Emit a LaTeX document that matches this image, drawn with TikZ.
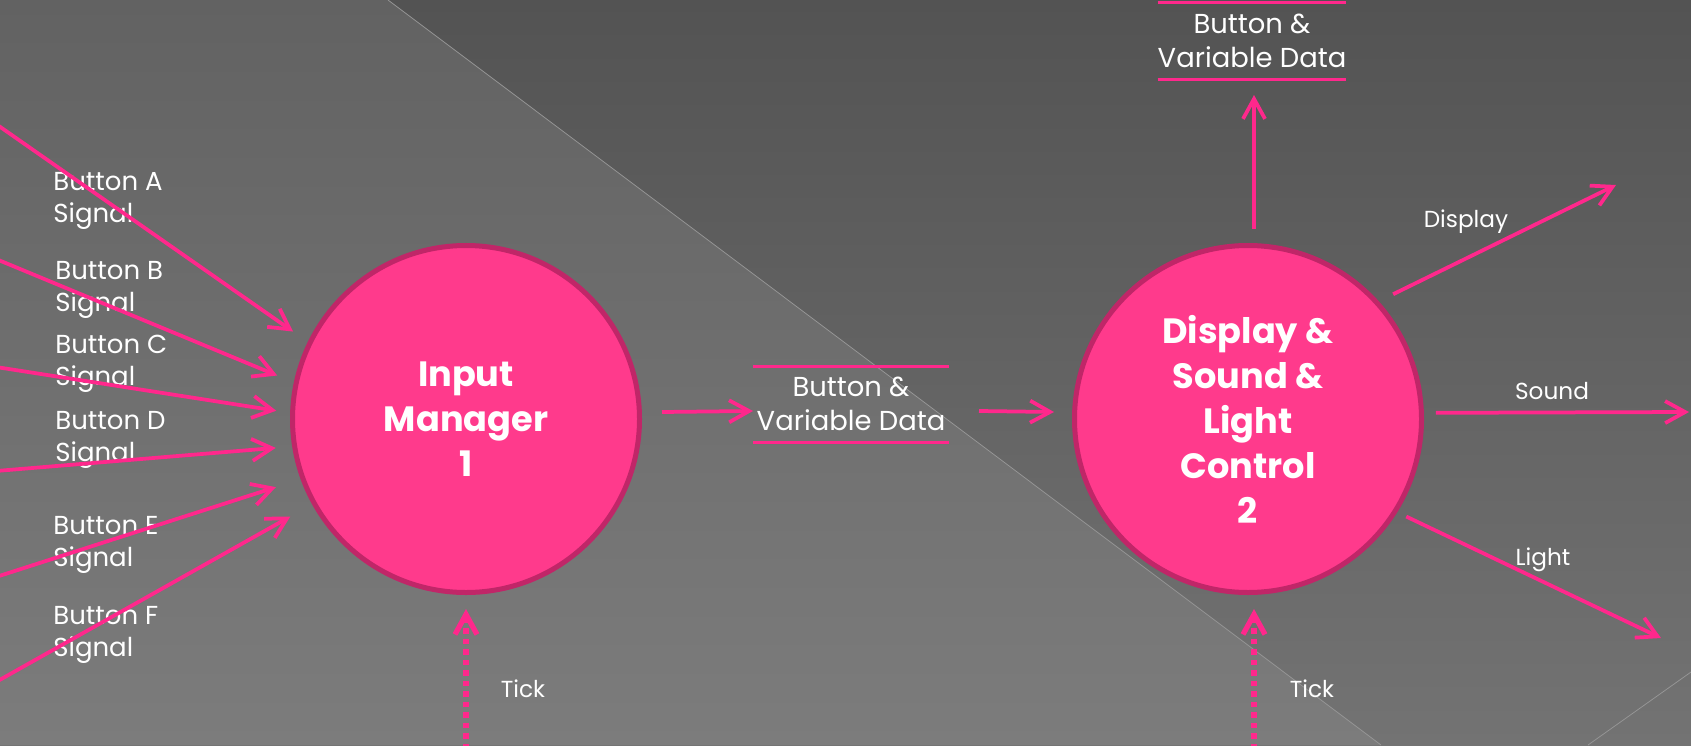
\documentclass[tikz,border=0pt]{standalone}
\usepackage{fontspec}
\setmainfont{Poppins}
\usetikzlibrary{arrows.meta}
\definecolor{procpink}{RGB}{255,58,140}
\definecolor{procrim}{RGB}{192,38,104}
\definecolor{flowpink}{RGB}{255,40,140}
\definecolor{darktop}{RGB}{83,83,83}
\definecolor{darkbot}{RGB}{115,115,115}
\definecolor{lighttop}{RGB}{98,98,98}
\definecolor{lightbot}{RGB}{124,124,124}
\definecolor{edgegray}{RGB}{150,150,150}

\begin{document}
\begin{tikzpicture}[x=0.2mm,y=0.2mm,
    proc/.style={circle,fill=procpink,draw=procrim,line width=1mm,minimum size=69.4mm,inner sep=0pt,text=white,align=center,font=\bfseries\fontsize{20}{25.6}\selectfont},
    flow/.style={draw=flowpink,line width=0.75mm,-{Straight Barb[length=4mm,width=4.4mm]}},
    clock/.style={flow,line width=1.05mm,dash pattern=on 1.1mm off 1mm},
    sig/.style={text=white,align=left,anchor=west,inner sep=0pt,font=\fontsize{14.8}{18.2}\selectfont},
    lab/.style={text=white,inner sep=0pt,font=\fontsize{13.2}{15}\selectfont},
    store/.style={minimum height=15.2mm,inner sep=0pt,outer sep=0pt,text=white,align=center,font=\fontsize{15.6}{19.3}\selectfont}]
    \useasboundingbox(0,0)rectangle(1691,745);
    \shade[top color=darktop,bottom color=darkbot](0,0)rectangle(1691,745);
    \shade[top color=lighttop,bottom color=lightbot](0,745)--(388,745)--(1381,0)--(0,0)--cycle;
    \draw[edgegray,line width=0.15mm](388,745)--(1381,0);
    \draw[edgegray,line width=0.15mm](1691,73)--(1588,0);

    \node[proc](input)at(466,326){Input\\Manager\\1};
    \node[proc](control)at(1248,326){Display \&\\Sound \&\\Light\\Control\\2};
    \node[store,minimum width=39.2mm](data1)at(851,341){Button \&\\Variable Data};
    \node[store,minimum width=36.4mm](data2)at(1252,704){Button \&\\Variable Data};
    \draw[flowpink,line width=0.6mm](data1.north west)--(data1.north east)(data1.south west)--(data1.south east);
    \draw[flowpink,line width=0.6mm](data2.north west)--(data2.north east)(data2.south west)--(data2.south east);

    \node[sig](sigA)at(53,544){Button A\\Signal};
    \node[sig](sigB)at(55,455){Button B\\Signal};
    \node[sig](sigC)at(55,381){Button C\\Signal};
    \node[sig](sigD)at(55,305){Button D\\Signal};
    \node[sig](sigE)at(53,200){Button E\\Signal};
    \node[sig](sigF)at(53,110){Button F\\Signal};
    \coordinate(inA)at(-4,621);
    \coordinate(inB)at(-4,486);
    \coordinate(inC)at(-4,378);
    \coordinate(inD)at(-4,274);
    \coordinate(inE)at(-4,168);
    \coordinate(inF)at(-4,63);
    \draw[flow,shorten >=3.6mm](inA)--(input.154);
    \draw[flow,shorten >=3.6mm](inB)--(input.168);
    \draw[flow,shorten >=2.8mm](inC)--(input.178);
    \draw[flow,shorten >=3.3mm](inD)--(input.189);
    \draw[flow,shorten >=5.2mm](inE)--(input.200);
    \draw[flow,shorten >=5mm](inF)--(input.209);

    \draw[flow]([xshift=4mm,yshift=1.4mm]input.east)--([yshift=-1.4mm]data1.west);
    \draw[flow]([xshift=6mm,yshift=-1.4mm]data1.east)--([xshift=-3.6mm,yshift=1.4mm]control.west);
    \draw[flow]([xshift=1.2mm,yshift=2.8mm]control.north)--([xshift=1.2mm,yshift=-3.2mm]control.north|-data2.south);

    \coordinate(dispEnd)at(1616,560);
    \coordinate(soundEnd)at(1689,333);
    \coordinate(lightEnd)at(1661,107);
    \draw[flow,shorten <=3.2mm](control.42)--(dispEnd);
    \draw[flow,shorten <=2.4mm](control.2)--(soundEnd);
    \draw[flow,shorten <=2mm](control.-32)--(lightEnd);
    \node[lab](disp)at(1466,523){Display};
    \node[lab](sound)at(1552,354){Sound};
    \node[lab](light)at(1543,185){Light};

    \coordinate(clk1)at(466,-4);
    \coordinate(clk2)at(1254,-4);
    \draw[clock,shorten >=2.8mm](clk1)--(input.south);
    \draw[clock,shorten >=2.8mm](clk2)--(clk2|-control.south);
    \node[lab](tick1)at(523,56){Tick};
    \node[lab](tick2)at(1312,56){Tick};
\end{tikzpicture}
\end{document}
